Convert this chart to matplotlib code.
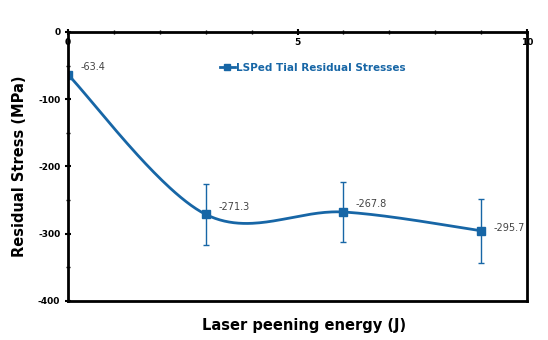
import numpy as np
import matplotlib.pyplot as plt
from matplotlib.ticker import MultipleLocator

plt.rcParams["axes.unicode_minus"] = False

# laser peening energy (J) vs residual stress (MPa)
energy = [0, 3, 6, 9]
stress = [-63.4, -271.3, -267.8, -295.7]
err = [0, 45, 44, 48]
labels = ["-63.4", "-271.3", "-267.8", "-295.7"]

blue = "#1766a6"


def smooth(xs, ys, n=60):
    # Catmull-Rom style bezier through the points (like spreadsheet smoothing)
    px = np.array(xs, float)
    py = np.array(ys, float)
    px = np.concatenate([[px[0]], px, [px[-1]]])
    py = np.concatenate([[py[0]], py, [py[-1]]])
    ox, oy = [], []
    t = np.linspace(0, 1, n)
    for i in range(1, len(px) - 2):
        p0 = np.array([px[i], py[i]])
        p3 = np.array([px[i + 1], py[i + 1]])
        c1 = p0 + (np.array([px[i + 1], py[i + 1]]) - np.array([px[i - 1], py[i - 1]])) / 6
        c2 = p3 - (np.array([px[i + 2], py[i + 2]]) - np.array([px[i], py[i]])) / 6
        b = ((1 - t) ** 3)[:, None] * p0 + (3 * (1 - t) ** 2 * t)[:, None] * c1 \
            + (3 * (1 - t) * t ** 2)[:, None] * c2 + (t ** 3)[:, None] * p3
        ox.extend(b[:, 0])
        oy.extend(b[:, 1])
    return ox, oy


fig = plt.figure(figsize=(5.48, 3.40), dpi=100)
ax = fig.add_axes([0.124, 0.115, 0.838, 0.791])

sx, sy = smooth(energy, stress)
ax.plot(sx, sy, color=blue, lw=2)
ax.errorbar(energy, stress, yerr=err, fmt="none", ecolor=blue, elinewidth=1,
            capsize=2, capthick=1)
ax.plot(energy, stress, "s", color=blue, ms=6)
ax.plot([], [], "-s", color=blue, lw=2, ms=5, label="LSPed Tial Residual Stresses")

for x, y, s in zip(energy, stress, labels):
    ax.annotate(s, (x, y), xytext=(9, 2), textcoords="offset points",
                fontsize=7, color="#444444", va="bottom" if x != 9 else "center")

ax.set_xlim(0, 10)
ax.set_ylim(-400, 0)
ax.xaxis.tick_top()
ax.xaxis.set_major_locator(MultipleLocator(5))
ax.xaxis.set_minor_locator(MultipleLocator(1))
ax.yaxis.set_major_locator(MultipleLocator(100))
ax.yaxis.set_minor_locator(MultipleLocator(50))
ax.tick_params(axis="x", which="both", direction="inout", pad=-13, labelsize=6.5)
ax.tick_params(axis="y", which="both", direction="inout", pad=3, labelsize=6.5)
ax.tick_params(which="major", length=5, width=1.5)
ax.tick_params(which="minor", length=3, width=1)
for lab in ax.get_xticklabels() + ax.get_yticklabels():
    lab.set_fontweight("bold")

for sp in ax.spines.values():
    sp.set_linewidth(2)

ax.set_ylabel("Residual Stress (MPa)", fontsize=10.5, fontweight="bold", labelpad=8)
fig.text(0.555, 0.03, "Laser peening energy (J)", ha="center", fontsize=10.5,
         fontweight="bold")

leg = ax.legend(loc="upper left", bbox_to_anchor=(0.31, 0.92), frameon=False,
                fontsize=7.5, handlelength=1.5, handletextpad=0.1)
for t in leg.get_texts():
    t.set_color(blue)
    t.set_fontweight("bold")

fig.savefig("out.png", dpi=100)
